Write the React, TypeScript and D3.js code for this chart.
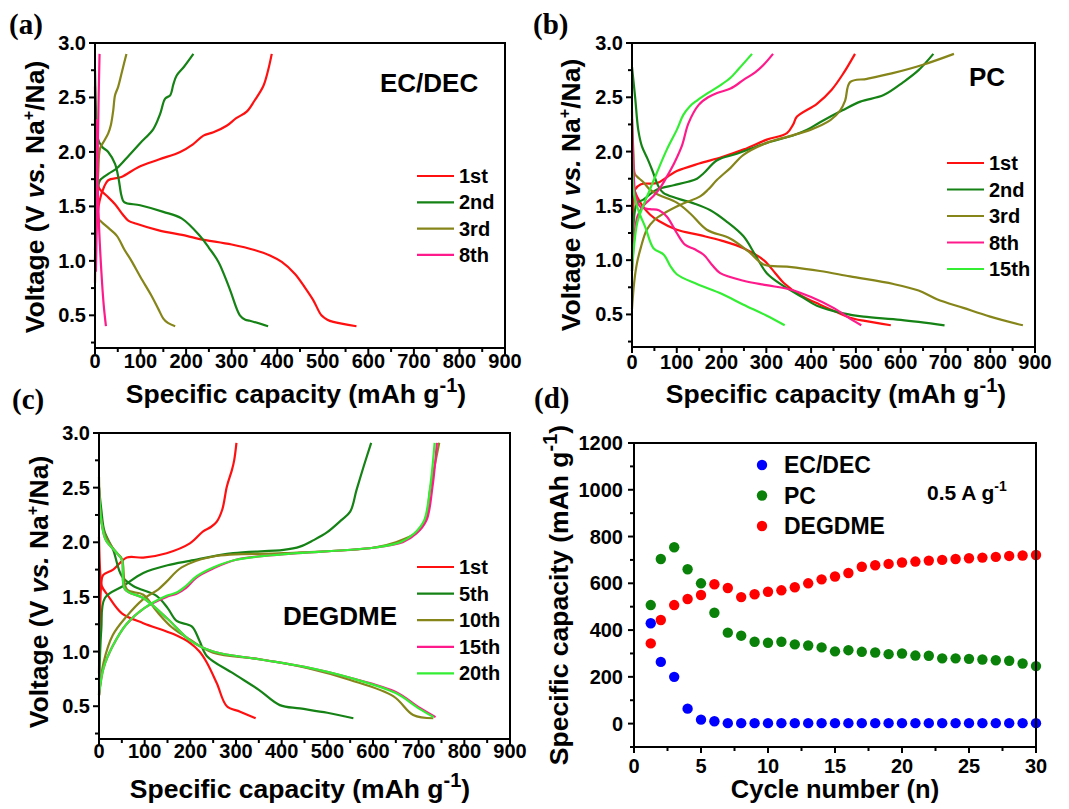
import React from "react";
import * as d3 from "d3";

type Pt = [number, number];

// ---------- Panel (a) EC/DEC ----------
const a1Charge: Pt[] = [[0,0.8],[3,1.3],[10,1.55],[20,1.68],[29,1.74],[58,1.77],[95,1.86],[140,1.93],[187,2.0],[215,2.07],[238,2.15],[260,2.18],[289,2.24],[310,2.31],[333,2.37],[350,2.47],[369,2.6],[380,2.75],[388,2.9]];
const a1Discharge: Pt[] = [[0,2.6],[2,2.0],[5,1.72],[10,1.66],[25,1.6],[44,1.52],[60,1.43],[73,1.37],[91,1.34],[140,1.28],[201,1.23],[230,1.2],[300,1.15],[350,1.1],[384,1.05],[410,0.99],[439,0.88],[460,0.76],[479,0.64],[497,0.5],[510,0.46],[523,0.44],[574,0.4]];
const a2Charge: Pt[] = [[0,1.0],[3,1.5],[8,1.7],[11,1.74],[30,1.8],[48,1.85],[75,1.97],[99,2.08],[128,2.21],[143,2.35],[154,2.49],[165,2.52],[172,2.62],[179,2.7],[195,2.78],[216,2.9]];
const a2Discharge: Pt[] = [[0,2.75],[2,2.4],[5,2.14],[15,2.05],[29,2.0],[44,1.89],[52,1.75],[58,1.6],[64,1.54],[99,1.51],[150,1.45],[190,1.39],[230,1.23],[250,1.12],[271,0.99],[295,0.75],[318,0.5],[330,0.46],[340,0.45],[380,0.4]];
const a3Charge: Pt[] = [[0,1.1],[3,1.5],[7,1.8],[11,2.03],[20,2.1],[29,2.17],[35,2.25],[40,2.38],[44,2.52],[51,2.6],[60,2.75],[69,2.9]];
const a3Discharge: Pt[] = [[0,2.3],[3,1.6],[6,1.4],[11,1.37],[30,1.3],[48,1.23],[65,1.1],[80,1.0],[100,0.85],[124,0.68],[140,0.55],[150,0.47],[160,0.43],[176,0.4]];
const a8Charge: Pt[] = [[2,0.9],[4,1.4],[6,2.0],[8,2.5],[10,2.9]];
const a8Discharge: Pt[] = [[3,2.3],[5,1.8],[9,1.3],[14,0.9],[19,0.6],[24,0.4]];

// ---------- Panel (b) PC ----------
const b1Charge: Pt[] = [[0,1.0],[3,1.5],[7,1.65],[20,1.7],[56,1.71],[80,1.77],[100,1.82],[150,1.89],[201,1.95],[250,2.02],[301,2.11],[346,2.17],[360,2.25],[368,2.32],[413,2.44],[446,2.57],[472,2.72],[498,2.9]];
const b1Discharge: Pt[] = [[0,1.75],[5,1.65],[12,1.58],[22,1.51],[40,1.42],[60,1.36],[100,1.28],[152,1.23],[200,1.18],[249,1.11],[294,1.0],[320,0.88],[339,0.79],[379,0.67],[420,0.59],[458,0.52],[487,0.47],[520,0.44],[578,0.4]];
const b2Charge: Pt[] = [[0,0.9],[3,1.3],[11,1.52],[26,1.56],[56,1.65],[93,1.69],[123,1.72],[145,1.75],[160,1.8],[190,1.92],[234,1.98],[301,2.08],[361,2.15],[391,2.2],[420,2.27],[470,2.38],[510,2.46],[562,2.52],[606,2.64],[640,2.75],[673,2.9]];
const b2Discharge: Pt[] = [[0,2.78],[7,2.5],[14,2.2],[22,2.05],[35,1.93],[45,1.83],[59,1.68],[70,1.62],[100,1.57],[140,1.52],[175,1.46],[210,1.36],[249,1.22],[275,1.05],[301,0.88],[339,0.76],[380,0.66],[413,0.58],[472,0.51],[517,0.48],[600,0.45],[698,0.4]];
const b3Charge: Pt[] = [[0,0.55],[5,0.8],[11,0.97],[20,1.12],[33,1.28],[50,1.37],[71,1.43],[108,1.51],[153,1.59],[170,1.65],[190,1.74],[220,1.85],[249,1.97],[301,2.08],[350,2.14],[398,2.2],[443,2.29],[465,2.38],[476,2.47],[487,2.64],[525,2.67],[580,2.72],[650,2.8],[719,2.9]];
const b3Discharge: Pt[] = [[0,2.3],[3,2.0],[6,1.8],[11,1.77],[25,1.72],[40,1.65],[60,1.6],[100,1.53],[130,1.43],[167,1.28],[219,1.2],[260,1.08],[294,0.96],[346,0.94],[420,0.9],[487,0.85],[584,0.78],[640,0.72],[681,0.64],[740,0.56],[800,0.48],[873,0.4]];
const b8Charge: Pt[] = [[0,0.9],[5,1.2],[12,1.4],[25,1.5],[48,1.59],[65,1.68],[78,1.77],[95,1.9],[112,2.06],[126,2.26],[149,2.43],[170,2.5],[190,2.54],[220,2.58],[249,2.66],[275,2.73],[294,2.8],[315,2.9]];
const b8Discharge: Pt[] = [[0,2.38],[3,1.9],[8,1.6],[19,1.49],[40,1.47],[60,1.46],[78,1.4],[100,1.25],[119,1.14],[140,1.1],[160,1.05],[180,0.95],[197,0.88],[249,0.81],[300,0.77],[353,0.73],[400,0.66],[450,0.56],[480,0.48],[512,0.4]];
const b15Charge: Pt[] = [[0,0.9],[5,1.15],[12,1.35],[25,1.5],[40,1.65],[55,1.8],[78,2.02],[100,2.2],[115,2.34],[130,2.42],[145,2.47],[170,2.54],[197,2.61],[220,2.68],[238,2.76],[268,2.9]];
const b15Discharge: Pt[] = [[0,1.95],[5,1.6],[15,1.45],[30,1.3],[48,1.11],[71,1.05],[85,0.95],[100,0.87],[145,0.78],[200,0.69],[249,0.59],[300,0.49],[341,0.4]];

// ---------- Panel (c) DEGDME ----------
const c1Charge: Pt[] = [[0,0.8],[2,1.3],[5,1.62],[9,1.7],[31,1.75],[61,1.86],[97,1.86],[148,1.9],[199,1.99],[228,2.1],[245,2.14],[258,2.19],[270,2.3],[280,2.51],[291,2.66],[296,2.75],[301,2.91]];
const c1Discharge: Pt[] = [[0,2.05],[3,1.7],[6,1.6],[20,1.51],[50,1.35],[97,1.26],[163,1.16],[199,1.08],[220,1.0],[236,0.9],[258,0.71],[280,0.5],[309,0.45],[343,0.39]];
const c5Charge: Pt[] = [[0,0.6],[5,1.2],[13,1.49],[53,1.6],[97,1.72],[150,1.79],[199,1.83],[294,1.9],[404,1.93],[440,1.96],[470,2.02],[499,2.09],[530,2.2],[550,2.28],[564,2.48],[580,2.7],[596,2.91]];
const c5Discharge: Pt[] = [[0,2.5],[5,2.3],[12,2.1],[31,1.93],[50,1.69],[75,1.6],[126,1.51],[150,1.4],[170,1.28],[203,1.23],[220,1.1],[236,0.96],[294,0.8],[350,0.65],[396,0.51],[440,0.48],[500,0.44],[557,0.39]];
const c10Charge: Pt[] = [[0,0.6],[10,0.9],[30,1.15],[60,1.32],[97,1.48],[130,1.57],[148,1.64],[181,1.77],[250,1.87],[404,1.9],[601,1.95],[650,2.0],[696,2.09],[715,2.2],[725,2.48],[735,2.7],[745,2.91]];
const c10Discharge: Pt[] = [[0,2.6],[5,2.2],[15,2.05],[35,1.92],[50,1.85],[61,1.57],[97,1.52],[126,1.37],[160,1.22],[199,1.11],[250,0.99],[353,0.93],[455,0.85],[550,0.74],[645,0.59],[688,0.42],[732,0.39]];
const c15Charge: Pt[] = [[0,0.6],[10,0.85],[30,1.05],[60,1.25],[100,1.4],[148,1.5],[170,1.53],[190,1.58],[214,1.68],[250,1.76],[300,1.84],[400,1.89],[600,1.95],[665,2.0],[695,2.08],[717,2.2],[730,2.5],[740,2.91]];
const c15Discharge: Pt[] = [[0,2.5],[5,2.2],[15,2.02],[35,1.92],[50,1.84],[57,1.57],[97,1.49],[150,1.3],[200,1.1],[250,1.0],[350,0.93],[450,0.86],[550,0.76],[650,0.63],[700,0.49],[737,0.4]];
const c20Charge: Pt[] = [[0,0.6],[10,0.85],[30,1.05],[60,1.25],[100,1.4],[148,1.51],[170,1.54],[190,1.6],[214,1.69],[250,1.77],[300,1.84],[400,1.89],[600,1.95],[660,2.0],[690,2.08],[712,2.2],[725,2.5],[735,2.91]];
const c20Discharge: Pt[] = [[0,2.51],[5,2.2],[15,2.02],[35,1.92],[50,1.84],[57,1.57],[97,1.49],[150,1.3],[200,1.1],[250,1.0],[350,0.93],[450,0.86],[550,0.76],[650,0.62],[700,0.48],[733,0.4]];

// ---------- Panel (d) cycling ----------
const cycles: number[] = [1.25,2,3,4,5,6,7,8,9,10,11,12,13,14,15,16,17,18,19,20,21,22,23,24,25,26,27,28,29,30];
const ecdecCap: number[] = [429,264,200,64,17,10,2,2,2,2,2,2,2,2,2,2,2,2,2,2,2,2,2,2,2,2,2,2,2,2];
const pcCap: number[] = [507,704,754,660,600,474,389,376,350,346,350,339,334,326,309,314,307,304,297,300,291,290,279,279,277,274,271,269,257,246];
const degdmeCap: number[] = [343,443,507,533,550,596,580,541,553,564,570,583,600,617,629,644,671,677,683,689,693,697,700,704,707,710,713,717,719,721];

const voltageTicks: number[] = [0.5,1.0,1.5,2.0,2.5,3.0];
const capacityTicks: number[] = [0,100,200,300,400,500,600,700,800,900];
const cycleTicks: number[] = [0,5,10,15,20,25,30];
const capTicksD: number[] = [0,200,400,600,800,1000,1200];

const RED = "#ff1010";
const DGREEN = "#158215";
const OLIVE = "#85851a";
const PINK = "#ff1a8c";
const LGREEN = "#33ee33";

const FONT = "'Liberation Sans', Arial, Helvetica, sans-serif";
const SERIF = "'Liberation Serif', 'Times New Roman', serif";
const TITLE = 26.5;
const TICK = 20;

type Series = { name: string; color: string; charge: Pt[]; discharge: Pt[] };

const seriesA: Series[] = [
  { name: "1st", color: RED, charge: a1Charge, discharge: a1Discharge },
  { name: "2nd", color: DGREEN, charge: a2Charge, discharge: a2Discharge },
  { name: "3rd", color: OLIVE, charge: a3Charge, discharge: a3Discharge },
  { name: "8th", color: PINK, charge: a8Charge, discharge: a8Discharge },
];
const seriesB: Series[] = [
  { name: "1st", color: RED, charge: b1Charge, discharge: b1Discharge },
  { name: "2nd", color: DGREEN, charge: b2Charge, discharge: b2Discharge },
  { name: "3rd", color: OLIVE, charge: b3Charge, discharge: b3Discharge },
  { name: "8th", color: PINK, charge: b8Charge, discharge: b8Discharge },
  { name: "15th", color: LGREEN, charge: b15Charge, discharge: b15Discharge },
];
const seriesC: Series[] = [
  { name: "1st", color: RED, charge: c1Charge, discharge: c1Discharge },
  { name: "5th", color: DGREEN, charge: c5Charge, discharge: c5Discharge },
  { name: "10th", color: OLIVE, charge: c10Charge, discharge: c10Discharge },
  { name: "15th", color: PINK, charge: c15Charge, discharge: c15Discharge },
  { name: "20th", color: LGREEN, charge: c20Charge, discharge: c20Discharge },
];

type Box = { left: number; right: number; top: number; bottom: number };

function SpecCapText() {
  return (
    <>
      Specific capacity (mAh g<tspan dy={-11} fontSize={20}>-1</tspan><tspan dy={11}>)</tspan>
    </>
  );
}

function SpecCapTitle({ x, y }: { x: number; y: number }) {
  return (
    <text x={x} y={y} textAnchor="middle" fontFamily={FONT} fontWeight="bold" fontSize={TITLE}>
      <SpecCapText />
    </text>
  );
}

function VoltageTitle({ x, y }: { x: number; y: number }) {
  return (
    <text transform={`translate(${x},${y}) rotate(-90)`} textAnchor="middle" fontFamily={FONT} fontWeight="bold" fontSize={TITLE}>
      Voltage (V <tspan fontStyle="italic">vs.</tspan> Na<tspan dy={-10} fontSize={16}>+</tspan><tspan dy={10}>/Na)</tspan>
    </text>
  );
}

function VoltagePanel({ box, series, label, labelPos, legendX, legendY, legendStep, name, namePos, xLabelOffset }: {
  box: Box; series: Series[]; label: string; labelPos: [number, number]; legendX: number; legendY: number; legendStep: number;
  name: string; namePos: [number, number]; xLabelOffset: number;
}) {
  const x = d3.scaleLinear().domain([0, 900]).range([box.left, box.right]);
  const y = d3.scaleLinear().domain([0.2, 3.0]).range([box.bottom, box.top]);
  const line = d3.line<Pt>().x(d => x(d[0])).y(d => y(d[1])).curve(d3.curveCatmullRom.alpha(0.5));
  const minorY = d3.range(0.25, 3.0001, 0.25);
  const minorX = d3.range(50, 900, 100);
  return (
    <g>
      <text x={labelPos[0]} y={labelPos[1]} fontFamily={SERIF} fontWeight="bold" fontSize={29}>{label}</text>
      <g>
        {series.map(s => (
          <g key={s.name}>
            <path d={line(s.discharge) || ""} fill="none" stroke={s.color} strokeWidth={2.2} />
            <path d={line(s.charge) || ""} fill="none" stroke={s.color} strokeWidth={2.2} />
          </g>
        ))}
      </g>
      <rect x={box.left} y={box.top} width={box.right - box.left} height={box.bottom - box.top} fill="none" stroke="#000" strokeWidth={2} />
      {minorY.map(v => (
        <line key={"my" + v} x1={box.left} x2={box.left - (Math.abs((v * 2) % 1) < 1e-6 ? 6 : 4)} y1={y(v)} y2={y(v)} stroke="#000" strokeWidth={2} />
      ))}
      {voltageTicks.map(v => (
        <text key={"ty" + v} x={box.left - 9} y={y(v) + 7} textAnchor="end" fontFamily={FONT} fontWeight="bold" fontSize={TICK}>{v.toFixed(1)}</text>
      ))}
      {capacityTicks.map(v => (
        <g key={"tx" + v}>
          <line x1={x(v)} x2={x(v)} y1={box.bottom} y2={box.bottom + 6} stroke="#000" strokeWidth={2} />
          <text x={x(v)} y={box.bottom + xLabelOffset} textAnchor="middle" fontFamily={FONT} fontWeight="bold" fontSize={TICK}>{v}</text>
        </g>
      ))}
      {minorX.map(v => (
        <line key={"mx" + v} x1={x(v)} x2={x(v)} y1={box.bottom} y2={box.bottom + 4} stroke="#000" strokeWidth={2} />
      ))}
      {series.map((s, i) => (
        <g key={"lg" + s.name}>
          <line x1={legendX} x2={legendX + 37} y1={legendY + i * legendStep} y2={legendY + i * legendStep} stroke={s.color} strokeWidth={2.2} />
          <text x={legendX + 42} y={legendY + i * legendStep + 7} fontFamily={FONT} fontWeight="bold" fontSize={20}>{s.name}</text>
        </g>
      ))}
      <text x={namePos[0]} y={namePos[1]} fontFamily={FONT} fontWeight="bold" fontSize={26}>{name}</text>
    </g>
  );
}

function CyclePanel({ box }: { box: Box }) {
  const x = d3.scaleLinear().domain([0, 30]).range([box.left, box.right]);
  const y = d3.scaleLinear().domain([-100, 1200]).range([box.bottom, box.top]);
  const sets = [
    { name: "EC/DEC", color: "#0000ff", vals: ecdecCap },
    { name: "PC", color: "#0a820a", vals: pcCap },
    { name: "DEGDME", color: "#ff0000", vals: degdmeCap },
  ];
  const minorY = d3.range(-100, 1201, 100);
  const minorX = d3.range(2.5, 30, 5);
  return (
    <g>
      <text x={534} y={408} fontFamily={SERIF} fontWeight="bold" fontSize={29}>(d)</text>
      {sets.map(s => (
        <g key={s.name}>
          {cycles.map((c, i) => (
            <circle key={i} cx={x(c)} cy={y(s.vals[i])} r={5.2} fill={s.color} />
          ))}
        </g>
      ))}
      <rect x={box.left} y={box.top} width={box.right - box.left} height={box.bottom - box.top} fill="none" stroke="#000" strokeWidth={2} />
      {minorY.map(v => (
        <line key={"my" + v} x1={box.left} x2={box.left - (v % 200 === 0 ? 6 : 4)} y1={y(v)} y2={y(v)} stroke="#000" strokeWidth={2} />
      ))}
      {capTicksD.map(v => (
        <text key={"ty" + v} x={box.left - 11} y={y(v) + 7} textAnchor="end" fontFamily={FONT} fontWeight="bold" fontSize={TICK}>{v}</text>
      ))}
      {cycleTicks.map(v => (
        <g key={"tx" + v}>
          <line x1={x(v)} x2={x(v)} y1={box.bottom} y2={box.bottom + 6} stroke="#000" strokeWidth={2} />
          <text x={x(v)} y={box.bottom + 26} textAnchor="middle" fontFamily={FONT} fontWeight="bold" fontSize={TICK}>{v}</text>
        </g>
      ))}
      {minorX.map(v => (
        <line key={"mx" + v} x1={x(v)} x2={x(v)} y1={box.bottom} y2={box.bottom + 4} stroke="#000" strokeWidth={2} />
      ))}
      {sets.map((s, i) => (
        <g key={"lg" + s.name}>
          <circle cx={762} cy={465 + i * 30.5} r={5.2} fill={s.color} />
          <text x={784} y={473 + i * 30.5} fontFamily={FONT} fontWeight="bold" fontSize={23}>{s.name}</text>
        </g>
      ))}
      <text x={927} y={500} fontFamily={FONT} fontWeight="bold" fontSize={21}>
        0.5 A g<tspan dy={-9} fontSize={14}>-1</tspan>
      </text>
      <text x={(box.left + box.right) / 2} y={798} textAnchor="middle" fontFamily={FONT} fontWeight="bold" fontSize={25.5}>Cycle number (n)</text>
      <text transform={`translate(568,${(box.top + box.bottom) / 2}) rotate(-90)`} textAnchor="middle" fontFamily={FONT} fontWeight="bold" fontSize={TITLE}>
        <SpecCapText />
      </text>
    </g>
  );
}

export default function App() {
  const boxA: Box = { left: 95, right: 505, top: 43, bottom: 348 };
  const boxB: Box = { left: 632, right: 1035, top: 43, bottom: 347 };
  const boxC: Box = { left: 99, right: 510, top: 433, bottom: 739 };
  const boxD: Box = { left: 634, right: 1036, top: 443, bottom: 747 };
  return (
    <svg width={1069} height={809} style={{ position: "absolute", left: 0, top: 0, background: "#fff" }}>
      <rect x={0} y={0} width={1069} height={809} fill="#fff" />
      <VoltagePanel box={boxA} series={seriesA} label="(a)" labelPos={[9, 34]} legendX={417} legendY={176} legendStep={26.3}
        name="EC/DEC" namePos={[380, 92]} xLabelOffset={20} />
      <VoltagePanel box={boxB} series={seriesB} label="(b)" labelPos={[533, 34]} legendX={947} legendY={163} legendStep={26.5}
        name="PC" namePos={[969, 86]} xLabelOffset={22} />
      <VoltagePanel box={boxC} series={seriesC} label="(c)" labelPos={[12, 409]} legendX={417} legendY={567} legendStep={26.6}
        name="DEGDME" namePos={[283, 625]} xLabelOffset={19} />
      <CyclePanel box={boxD} />
      <SpecCapTitle x={296} y={403} />
      <SpecCapTitle x={836} y={403} />
      <SpecCapTitle x={300} y={798} />
      <VoltageTitle x={44} y={197} />
      <VoltageTitle x={580} y={195} />
      <VoltageTitle x={48} y={592} />
    </svg>
  );
}
